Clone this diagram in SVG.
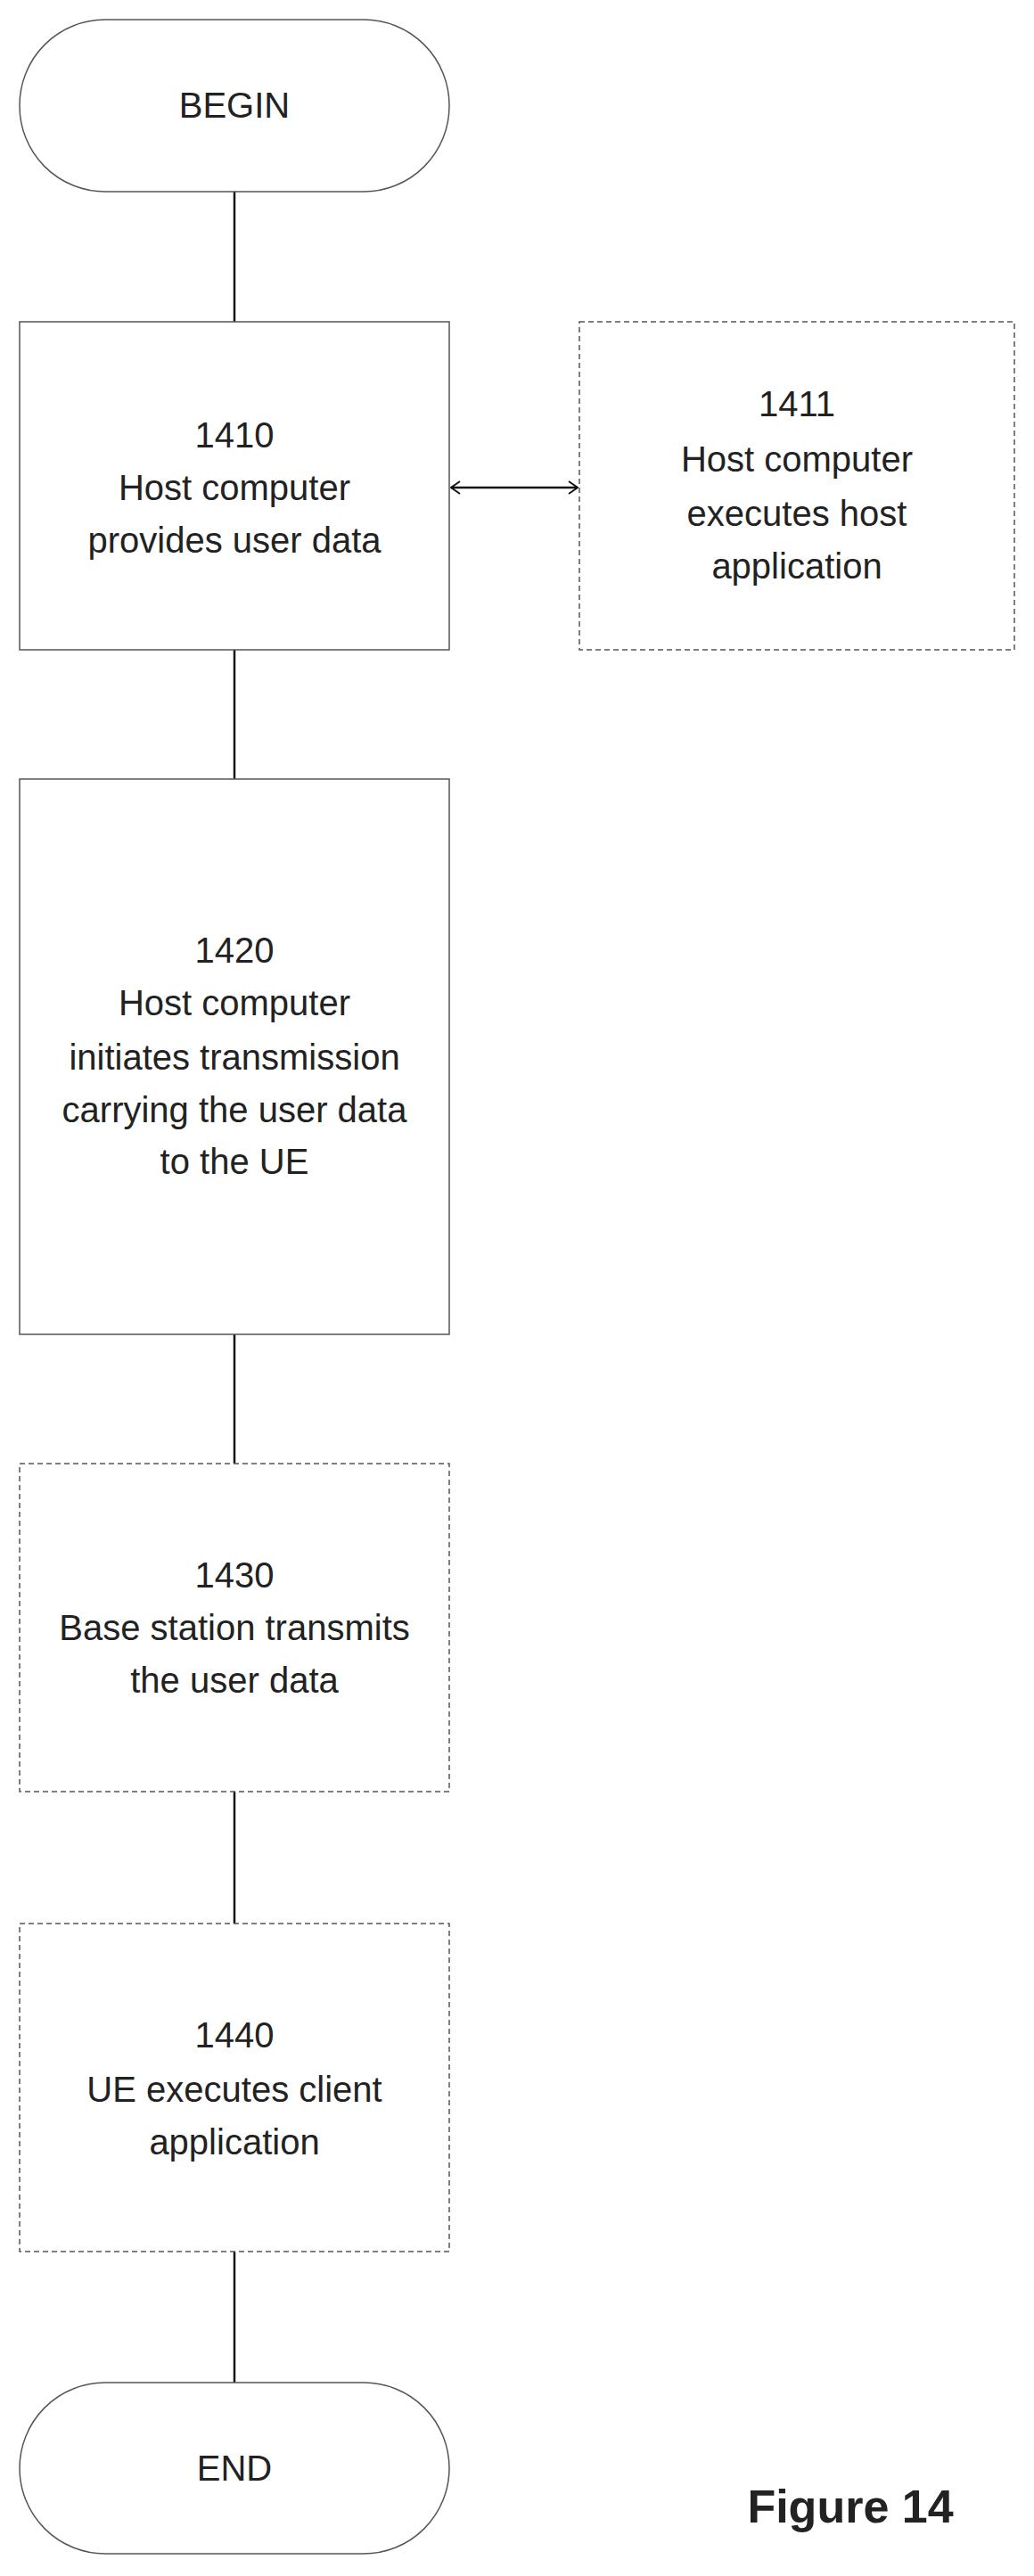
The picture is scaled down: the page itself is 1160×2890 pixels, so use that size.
<svg xmlns="http://www.w3.org/2000/svg" width="1160" height="2890" viewBox="0 0 1160 2890">
<style>
.b{fill:#fff;stroke:#555;stroke-width:1.5}
.d{stroke-dasharray:6,4}
text{font-family:"Liberation Sans",Arial,sans-serif;font-size:40px;fill:#222;text-anchor:middle}
.c{stroke:#111;stroke-width:2.5;fill:none}
</style>
<defs>
<marker id="a" viewBox="0 0 12 16" refX="11" refY="8" markerWidth="12" markerHeight="16" markerUnits="userSpaceOnUse" orient="auto-start-reverse">
<path d="M1,1 L11,8 L1,15" fill="none" stroke="#111" stroke-width="2"/>
</marker>
</defs>
<g id="connectors">
<line class="c" x1="263" y1="215" x2="263" y2="361"/>
<line class="c" x1="263" y1="729" x2="263" y2="874"/>
<line class="c" x1="263" y1="1497" x2="263" y2="1642"/>
<line class="c" x1="263" y1="2010" x2="263" y2="2158"/>
<line class="c" x1="263" y1="2526" x2="263" y2="2673"/>
<line class="c" x1="506" y1="547" x2="648" y2="547" marker-start="url(#a)" marker-end="url(#a)"/>
</g>
<g id="begin"><rect class="b" x="22" y="22" width="482" height="193" rx="96"/><text x="263" y="132">BEGIN</text></g>
<g id="n1410"><rect class="b" x="22" y="361" width="482" height="368"/>
<text x="263" y="502">1410</text><text x="263" y="561">Host computer</text><text x="263" y="620">provides user data</text></g>
<g id="n1411"><rect class="b d" x="650" y="361" width="488" height="368"/>
<text x="894" y="467">1411</text><text x="894" y="529">Host computer</text><text x="894" y="590">executes host</text><text x="894" y="649">application</text></g>
<g id="n1420"><rect class="b" x="22" y="874" width="482" height="623"/>
<text x="263" y="1080">1420</text><text x="263" y="1139">Host computer</text><text x="263" y="1200">initiates transmission</text><text x="263" y="1259">carrying the user data</text><text x="263" y="1317">to the UE</text></g>
<g id="n1430"><rect class="b d" x="22" y="1642" width="482" height="368"/>
<text x="263" y="1781">1430</text><text x="263" y="1840">Base station transmits</text><text x="263" y="1899">the user data</text></g>
<g id="n1440"><rect class="b d" x="22" y="2158" width="482" height="368"/>
<text x="263" y="2297">1440</text><text x="263" y="2358">UE executes client</text><text x="263" y="2417">application</text></g>
<g id="end"><rect class="b" x="22" y="2673" width="482" height="192" rx="96"/><text x="263" y="2783">END</text></g>
<text x="954" y="2830" style="font-weight:bold;font-size:52px">Figure 14</text>
</svg>
